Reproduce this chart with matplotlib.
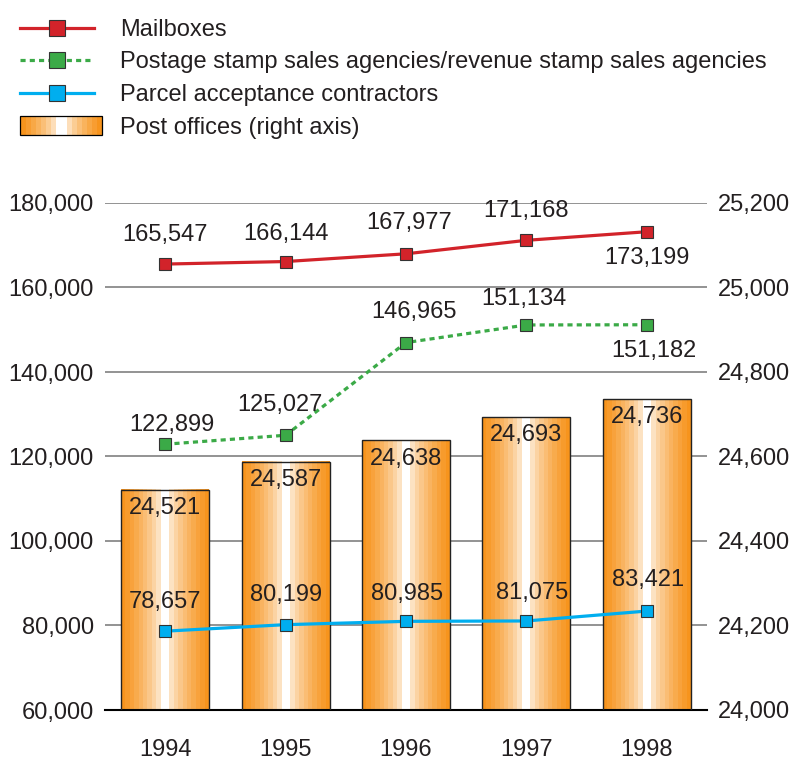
import numpy as np
import matplotlib
matplotlib.use('Agg')
import matplotlib.pyplot as plt
from matplotlib.patches import Rectangle
from matplotlib.legend_handler import HandlerBase
from matplotlib.colors import to_rgb

plt.rcParams['font.family'] = ['Liberation Sans', 'DejaVu Sans']

# data
years = ['1994', '1995', '1996', '1997', '1998']
mailboxes = [165547, 166144, 167977, 171168, 173199]
stamp_agencies = [122899, 125027, 146965, 151134, 151182]
parcel_contractors = [78657, 80199, 80985, 81075, 83421]
post_offices = [24521, 24587, 24638, 24693, 24736]

# label placement (offset in points: dx, dy)
mail_off = [(0, 21), (0, 20), (2, 22), (0, 21), (0, -19)]
stamp_off = [(5, 14), (-4, 22), (6, 22), (-2, 19), (5, -19)]
parcel_off = [(0, 21), (0, 21), (1, 20), (4, 20), (1, 22)]

ORANGE = '#F7941D'
TXT = '#231F20'
FS = 17


def strip_colors(n=20):
    # stepped orange -> white -> orange bands
    o = np.array(to_rgb(ORANGE))
    w = np.ones(3)
    c = (n - 1) / 2
    t = np.clip((np.abs(np.arange(n) - c) - 0.5) / (c - 0.5), 0, 1)
    t = t ** 0.6
    return w[None, :] + (o - w)[None, :] * t[:, None]


class HandlerGradient(HandlerBase):
    def create_artists(self, legend, orig_handle, xdescent, ydescent,
                       width, height, fontsize, trans):
        cols = strip_colors(16)
        x0 = -xdescent
        w = width * 1.12
        h = height * 1.1
        y0 = -ydescent - (h - height) / 2
        sw = w / len(cols)
        arts = []
        for i, c in enumerate(cols):
            arts.append(Rectangle((x0 + i * sw, y0), sw * 1.02, h, facecolor=c,
                                  edgecolor='none', transform=trans))
        arts.append(Rectangle((x0, y0), w, h, facecolor='none', edgecolor='black',
                              lw=0.9, transform=trans))
        return arts


fig = plt.figure(figsize=(7.92, 7.61), dpi=100)
ax = fig.add_axes([105 / 792, 1 - 710 / 761, 602 / 792, 507 / 761])
ax2 = ax.twinx()
ax.set_zorder(ax2.get_zorder() + 1)
ax.patch.set_visible(False)

x = np.arange(len(years))
bw = 0.73

# post office bars (right axis)
cols = strip_colors(20)
for xi, v in zip(x, post_offices):
    ax2.imshow(cols[None, :, :], extent=[xi - bw / 2, xi + bw / 2, 24000, v],
               aspect='auto', interpolation='nearest', zorder=2)
    ax2.add_patch(Rectangle((xi - bw / 2, 24000), bw, v - 24000, facecolor='none',
                            edgecolor='#222222', lw=1.0, zorder=3))
    ax2.annotate(f'{v:,}', (xi, v), xytext=(0, -13), textcoords='offset points',
                 ha='center', va='center', fontsize=FS, color=TXT, zorder=4)

ax2.set_xlim(-0.5, 4.5)
ax2.set_ylim(24000, 25200)
ax2.set_yticks(np.arange(24000, 25201, 200))
ax2.set_yticklabels([f'{t:,}' for t in range(24000, 25201, 200)])
ax2.yaxis.grid(True, color='#8a8a8a', lw=1.3)
ax2.set_axisbelow(True)
ax2.tick_params(axis='y', length=0, pad=8, labelsize=FS, labelcolor=TXT)

# lines (left axis)
l1, = ax.plot(x, mailboxes, color='#D2232A', lw=2.3, marker='s', ms=8,
              mfc='#D2232A', mec='#333333', mew=0.8, zorder=5)
l2, = ax.plot(x, stamp_agencies, color='#3BAA47', lw=2.3, ls=(0, (1.6, 1.3)),
              marker='s', ms=8, mfc='#3BAA47', mec='#333333', mew=0.8, zorder=5)
l3, = ax.plot(x, parcel_contractors, color='#00AEEF', lw=2.3, marker='s', ms=8,
              mfc='#00AEEF', mec='#333333', mew=0.8, zorder=5)

for vals, offs in [(mailboxes, mail_off), (stamp_agencies, stamp_off),
                   (parcel_contractors, parcel_off)]:
    for xi, v, (dx, dy) in zip(x, vals, offs):
        ax.annotate(f'{v:,}', (xi, v), xytext=(dx, dy), textcoords='offset points',
                    ha='center', va='center', fontsize=FS, color=TXT, zorder=6)

ax.set_xlim(-0.5, 4.5)
ax.set_ylim(60000, 180000)
ax.set_yticks(np.arange(60000, 180001, 20000))
ax.set_yticklabels([f'{t:,}' for t in range(60000, 180001, 20000)])
ax.set_xticks(x)
ax.set_xticklabels(years)
ax.tick_params(axis='y', length=0, pad=8, labelsize=FS, labelcolor=TXT)
ax.tick_params(axis='x', length=0, pad=21, labelsize=FS, labelcolor=TXT)

for a in (ax, ax2):
    for s in ['top', 'left', 'right']:
        a.spines[s].set_visible(False)
ax.spines['bottom'].set_visible(False)
ax2.spines['bottom'].set_color('black')
ax2.spines['bottom'].set_linewidth(1.5)

bar_handle = Rectangle((0, 0), 1, 1)
fig.legend([l1, l2, l3, bar_handle],
           ['Mailboxes',
            'Postage stamp sales agencies/revenue stamp sales agencies',
            'Parcel acceptance contractors',
            'Post offices (right axis)'],
           handler_map={Rectangle: HandlerGradient()},
           loc='upper left', bbox_to_anchor=(0.005, 0.997), frameon=False,
           fontsize=FS, handlelength=3.1, handletextpad=1.1, labelspacing=0.45,
           markerscale=1.5, borderpad=0.2)
for t in fig.legends[0].get_texts():
    t.set_color(TXT)

fig.savefig('out.png', dpi=100)
